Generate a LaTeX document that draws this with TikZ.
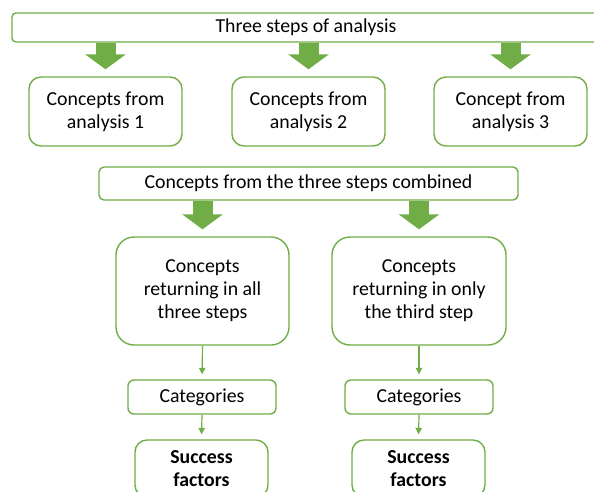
\documentclass[tikz,border=0pt]{standalone}
\usepackage{fontspec}
\setmainfont{Carlito}
\usetikzlibrary{arrows.meta,calc}
\definecolor{leaf}{HTML}{70AD47}
\tikzset{
  card/.style={draw=leaf, line width=1.4pt, fill=white, align=center, inner sep=0pt,
    font=\fontsize{19.8}{23}\selectfont, text=black},
  fatarrow/.style={draw=leaf, line width=20pt, line cap=butt,
    -{Triangle[width=40pt,length=15pt]}, shorten >=7pt},
  thinarrow/.style={draw=leaf, line width=1.2pt,
    -{Triangle[width=6.5pt,length=6.5pt]}, shorten >=5pt}
}
\begin{document}
\begin{tikzpicture}[x=1pt,y=-1pt]
\useasboundingbox (0,0) rectangle (594,491);
\clip (0,0) rectangle (594,491);
% headline row
\node[card, rounded corners=4pt, minimum width=588pt, minimum height=29pt] (top) at (306,27.5) {Three steps of analysis};
\node[card, rounded corners=12pt, minimum width=153pt, minimum height=69pt] (c1) at (105.5,111.5) {Concepts from\\analysis 1};
\node[card, rounded corners=12pt, minimum width=153pt, minimum height=69pt] (c2) at (308.5,111.5) {Concepts from\\analysis 2};
\node[card, rounded corners=12pt, minimum width=153pt, minimum height=69pt] (c3) at (510.5,111.5) {Concept from\\analysis 3};
% combined row
\node[card, rounded corners=5pt, minimum width=419pt, minimum height=33pt] (comb) at (308.5,183.5) {Concepts from the three steps combined};
\node[card, rounded corners=18pt, minimum width=173pt, minimum height=108pt] (ra) at (202.5,291) {Concepts\\returning in all\\three steps};
\node[card, rounded corners=18pt, minimum width=174pt, minimum height=108pt] (rb) at (419,291) {Concepts\\returning in only\\the third step};
% categories and success factors
\node[card, rounded corners=6pt, minimum width=148pt, minimum height=34pt] (cata) at (202,397) {Categories};
\node[card, rounded corners=6pt, minimum width=148pt, minimum height=34pt] (catb) at (419,397) {Categories};
\node[card, rounded corners=12pt, minimum width=133pt, minimum height=57pt, font=\fontsize{19.8}{23}\selectfont\bfseries] (sfa) at (201.5,468.5) {Success\\factors};
\node[card, rounded corners=12pt, minimum width=133pt, minimum height=57pt, font=\fontsize{19.8}{23}\selectfont\bfseries] (sfb) at (418.5,468.5) {Success\\factors};
% block arrows
\draw[fatarrow] (top.south -| c1.north) -- (c1.north);
\draw[fatarrow] (top.south -| c2.north) -- (c2.north);
\draw[fatarrow] (top.south -| c3.north) -- (c3.north);
\draw[fatarrow] (comb.south -| ra.north) -- (ra.north);
\draw[fatarrow] (comb.south -| rb.north) -- (rb.north);
% thin arrows
\draw[thinarrow] (ra.south) -- (cata.north);
\draw[thinarrow] (rb.south) -- (catb.north);
\draw[thinarrow] (cata.south) -- (sfa.north);
\draw[thinarrow] (catb.south) -- (sfb.north);
\end{tikzpicture}
\end{document}
